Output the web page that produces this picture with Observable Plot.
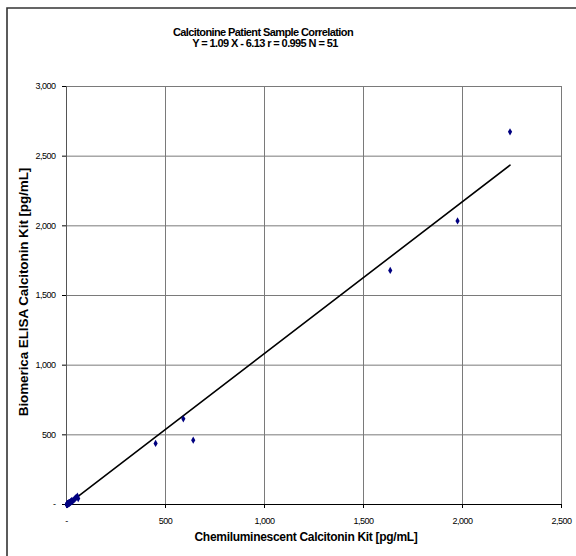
<!DOCTYPE html>
<html><head><meta charset="utf-8">
<script src="https://cdn.jsdelivr.net/npm/d3@7"></script>
<script src="https://cdn.jsdelivr.net/npm/@observablehq/plot@0.6"></script>
<style>
body{margin:0;background:#fff;}
#chart{position:relative;width:576px;height:556px;overflow:hidden;font-family:"Liberation Sans",Arial,sans-serif;}
#chart svg{display:block;}
</style></head><body><div id="chart"></div>
<script>
const title = "Calcitonine Patient Sample Correlation";
const subtitle = "Y = 1.09 X - 6.13 r = 0.995 N = 51";
const xLabel = "Chemiluminescent Calcitonin Kit [pg/mL]";
const yLabel = "Biomerica ELISA Calcitonin Kit [pg/mL]";
const xTicks = [0, 500, 1000, 1500, 2000, 2500];
const yTicks = [0, 500, 1000, 1500, 2000, 2500, 3000];
// regression as stated in chart
const slope = 1.09, intercept = -6.13;
// Chemiluminescent (x) and ELISA (y) values, 51 samples
const chemi = [2240, 1975, 1635, 590, 640, 450,
  50, 59, 20, 45, 38, 30, 25, 55, 42, 33,
  2, 3, 3, 4, 5, 5, 6, 7, 8, 8, 9, 10, 10, 11, 12, 13, 14, 15, 16, 18,
  20, 22, 24, 26, 28, 4, 6, 12, 17];
const elisa = [2675, 2035, 1680, 615, 462, 438,
  52, 43, 17, 48, 35, 22, 28, 60, 38, 30,
  0, 1, 4, 2, 3, 6, 2, 5, 4, 9, 6, 8, 12, 7, 10, 9, 14, 11, 15, 13,
  18, 20, 19, 24, 25, 0, 3, 6, 12];
const extraX = [1, 2, 3, 5, 7, 9];
const extraY = [0, 2, 1, 3, 4, 8];
const xs = chemi.concat(extraX), ys = elisa.concat(extraY);
const points = xs.map((x, i) => ({x, y: ys[i]}));
const xMin = d3.min(xs), xMax = d3.max(xs);
const fit = [xMin, xMax].map(x => ({x, y: slope * x + intercept}));

const fmt = d => d === 0 ? "-" : d3.format(",")(d);

const plot = Plot.plot({
  width: 576, height: 556,
  marginLeft: 66, marginRight: 15, marginTop: 86, marginBottom: 52,
  style: {fontFamily: '"Liberation Sans", Arial, sans-serif', background: "#fff"},
  x: {domain: [0, 2500]},
  y: {domain: [0, 3000]},
  marks: [
    Plot.gridX(xTicks, {stroke: "#7a7a7a", strokeOpacity: 1}),
    Plot.gridY(yTicks, {stroke: "#7a7a7a", strokeOpacity: 1}),
    Plot.ruleX([0], {stroke: "#555"}),
    Plot.ruleY([0], {stroke: "#000"}),
    Plot.axisX(xTicks, {tickSize: 4, tickPadding: 9, tickFormat: fmt, fontSize: 9, label: null, stroke: "#000"}),
    Plot.axisY(yTicks, {tickSize: 4, tickPadding: 7, tickFormat: fmt, fontSize: 9, label: null, stroke: "#000"}),
    Plot.line(fit, {x: "x", y: "y", stroke: "#000", strokeWidth: 1.6}),
    Plot.dot(points, {x: "x", y: "y", symbol: "diamond", r: 2.2, fill: "#000080", stroke: "none"})
  ]
});
document.getElementById("chart").appendChild(plot);

const svg = d3.select(plot);
svg.selectAll('[aria-label="x-axis tick label"] text, [aria-label="y-axis tick label"] text')
  .style("letter-spacing", "-0.5px").attr("fill", "#000");
// outer chart-area border
svg.append("path").attr("d", "M7,560V8H580").attr("fill", "none").attr("stroke", "#333").attr("stroke-width", 1.6);
// titles
const tg = svg.append("g").attr("font-weight", "bold").attr("fill", "#000").attr("text-anchor", "middle");
tg.append("text").attr("x", 263).attr("y", 36).attr("font-size", 11).style("letter-spacing", "-0.6px").text(title);
tg.append("text").attr("x", 265).attr("y", 47).attr("font-size", 11).style("letter-spacing", "-0.6px").text(subtitle);
// axis labels
tg.append("text").attr("x", 306).attr("y", 541).attr("font-size", 12).style("letter-spacing", "-0.3px").text(xLabel);
tg.append("text").attr("transform", "translate(28,292) rotate(-90)").attr("font-size", 13.5).style("letter-spacing", "-0.1px").text(yLabel);
</script></body></html>
